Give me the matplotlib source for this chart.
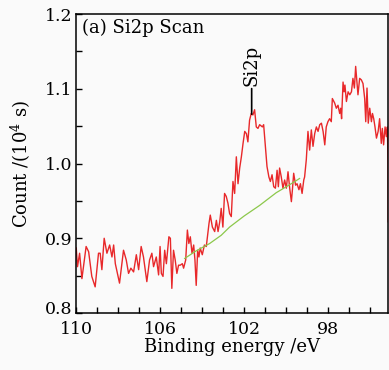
import matplotlib
matplotlib.use('Agg')
import matplotlib.pyplot as plt
import matplotlib.transforms as mtransforms
from matplotlib.ticker import MultipleLocator, FixedLocator

# 读取的 Si2p 谱数据 (结合能 eV, 计数 1e4 s)
energy = [
    110.00, 109.94, 109.84, 109.73, 109.53, 109.41, 109.26, 109.10, 108.94, 108.86,
    108.78, 108.67, 108.54, 108.41, 108.30, 108.22, 108.14, 107.94, 107.75, 107.62,
    107.51, 107.40, 107.27, 107.14, 107.03, 106.91, 106.80, 106.64, 106.51, 106.40,
    106.32, 106.19, 106.08, 106.01, 105.95, 105.87, 105.79, 105.71, 105.59, 105.52,
    105.45, 105.37, 105.29, 105.21, 105.13, 105.05, 104.95, 104.89, 104.79, 104.71,
    104.64, 104.57, 104.49, 104.41, 104.35, 104.29, 104.22, 104.16, 104.10, 104.00,
    103.90, 103.81, 103.68, 103.62, 103.52, 103.41, 103.33, 103.25, 103.17, 103.10,
    103.02, 102.94, 102.86, 102.78, 102.70, 102.62, 102.54, 102.46, 102.38, 102.30,
    102.22, 102.14, 102.06, 101.98, 101.90, 101.83, 101.75, 101.67, 101.59, 101.51,
    101.43, 101.35, 101.27, 101.14, 101.08, 100.98, 100.92, 100.83, 100.76, 100.68,
    100.60, 100.52, 100.44, 100.38, 100.32, 100.24, 100.16, 100.08, 100.00, 99.92,
    99.84, 99.76, 99.71, 99.65, 99.56, 99.49, 99.40, 99.33, 99.25, 99.17,
    99.13, 99.05, 98.97, 98.89, 98.81, 98.73, 98.65, 98.57, 98.49, 98.41,
    98.33, 98.25, 98.17, 98.10, 98.02, 97.94, 97.86, 97.81, 97.70, 97.62,
    97.54, 97.46, 97.41, 97.37, 97.30, 97.25, 97.21, 97.14, 97.06, 96.98,
    96.90, 96.83, 96.76, 96.70, 96.63, 96.59, 96.51, 96.43, 96.35, 96.27,
    96.22, 96.16, 96.10, 96.03, 95.95, 95.90, 95.84, 95.78, 95.71, 95.63,
    95.56, 95.48, 95.43, 95.37, 95.30, 95.24, 95.19, 95.16, 95.15,
]
counts = [
    0.887, 0.862, 0.880, 0.846, 0.889, 0.882, 0.849, 0.835, 0.880, 0.880,
    0.858, 0.900, 0.880, 0.891, 0.875, 0.891, 0.866, 0.840, 0.884, 0.871,
    0.853, 0.860, 0.855, 0.878, 0.858, 0.889, 0.875, 0.842, 0.871, 0.880,
    0.862, 0.875, 0.851, 0.889, 0.853, 0.849, 0.884, 0.866, 0.902, 0.900,
    0.833, 0.884, 0.871, 0.853, 0.864, 0.864, 0.866, 0.860, 0.871, 0.911,
    0.893, 0.902, 0.880, 0.891, 0.871, 0.837, 0.884, 0.875, 0.887, 0.878,
    0.891, 0.889, 0.920, 0.931, 0.915, 0.909, 0.924, 0.909, 0.922, 0.940,
    0.915, 0.960, 0.956, 0.947, 0.933, 0.929, 0.976, 0.960, 1.009, 0.973,
    0.994, 1.009, 1.027, 1.043, 1.040, 1.029, 1.058, 1.067, 1.065, 1.072,
    1.049, 1.047, 1.052, 1.049, 1.052, 1.018, 0.996, 0.982, 0.976, 0.985,
    0.969, 0.967, 0.991, 0.969, 0.994, 0.982, 0.967, 0.978, 0.967, 0.989,
    0.967, 0.949, 0.965, 0.987, 0.971, 0.973, 0.965, 0.973, 0.960, 0.978,
    0.982, 1.005, 1.043, 1.018, 1.045, 1.023, 1.040, 1.049, 1.043, 1.052,
    1.054, 1.043, 1.025, 1.049, 1.056, 1.060, 1.056, 1.087, 1.081, 1.074,
    1.078, 1.067, 1.074, 1.060, 1.109, 1.096, 1.105, 1.083, 1.096, 1.092,
    1.096, 1.114, 1.101, 1.130, 1.105, 1.092, 1.114, 1.112, 1.107, 1.087,
    1.056, 1.101, 1.054, 1.074, 1.056, 1.067, 1.060, 1.049, 1.034, 1.043,
    1.060, 1.027, 1.047, 1.025, 1.049, 1.036, 1.049, 1.002, 0.922,
]

# 背景线 (Shirley)
bg_energy = [104.84, 104.30, 103.65, 103.10, 102.70, 102.00, 101.27, 100.48, 100.00, 99.65, 99.37]
bg_counts = [0.873, 0.883, 0.893, 0.904, 0.915, 0.930, 0.944, 0.961, 0.969, 0.975, 0.980]

x_ticks = [110, 106, 102, 98]

plt.rcParams['font.family'] = ['DejaVu Serif']
plt.rcParams['mathtext.fontset'] = 'dejavuserif'

fig = plt.figure(figsize=(3.89, 3.70), dpi=100)
fig.patch.set_facecolor('#fafafa')
ax = fig.add_axes([0.196, 0.154, 0.802, 0.808])
ax.set_facecolor('#fafafa')

ax.plot(energy, counts, color='#e8282a', linewidth=1.0)
ax.plot(bg_energy, bg_counts, color='#8cc84b', linewidth=0.9)

ax.set_xlim(110, 95.15)
ax.set_ylim(0.8, 1.2)
ax.xaxis.set_major_locator(FixedLocator(x_ticks))
ax.xaxis.set_minor_locator(MultipleLocator(1))
ax.yaxis.set_major_locator(MultipleLocator(0.1))
ax.yaxis.set_minor_locator(MultipleLocator(0.05))
ax.yaxis.set_major_formatter(lambda v, p: f'{v:.1f}')
ax.tick_params(which='both', direction='in', length=4, width=1, labelsize=12.5,
               top=False, right=False)
ax.tick_params(axis='x', pad=6)
ax.tick_params(axis='y', pad=3)
for s in ax.spines.values():
    s.set_linewidth(1.1)

ax.set_xlabel('Binding energy /eV', fontsize=13, labelpad=0)
ax.set_ylabel('Count /(10$^4$ s)', fontsize=13, labelpad=8)

ax.text(0.018, 0.985, '(a) Si2p Scan', transform=ax.transAxes,
        ha='left', va='top', fontsize=13)

ax.annotate('Si2p', xy=(101.65, 1.066), xytext=(101.65, 1.104),
            rotation=90, ha='center', va='bottom', fontsize=13,
            arrowprops=dict(arrowstyle='-', color='black', lw=1.2,
                            shrinkA=0, shrinkB=0))

# 0.8 标签稍微上移, 避开 110
fig.canvas.draw()
lift = mtransforms.ScaledTranslation(0, 4 / 72, fig.dpi_scale_trans)
for lab in ax.get_yticklabels():
    if lab.get_text() == '0.8':
        lab.set_transform(lab.get_transform() + lift)

fig.savefig('out.png', dpi=100, facecolor=fig.get_facecolor())
